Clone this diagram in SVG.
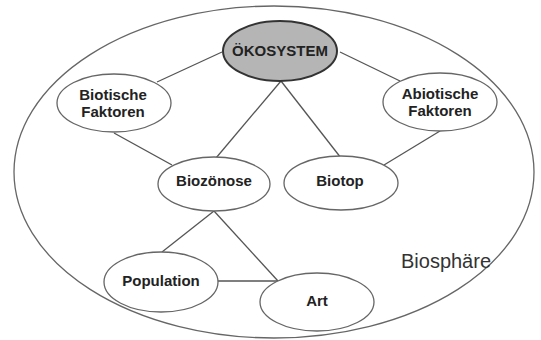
<svg xmlns="http://www.w3.org/2000/svg" width="541" height="340" viewBox="0 0 541 340">
<style>
.n{fill:#fff;stroke:#666;stroke-width:1.3}
.t{font-family:"Liberation Sans",Arial,sans-serif;font-weight:bold;font-size:15px;fill:#222;text-anchor:middle}
.c line{stroke:#555;stroke-width:1.3}
</style>
<rect width="541" height="340" fill="#fff"/>
<g id="biosphaere">
<ellipse cx="274" cy="172" rx="260" ry="166" fill="none" stroke="#666" stroke-width="1.3"/>
<text x="446" y="268" font-family="Liberation Sans,Arial,sans-serif" font-size="20" fill="#333" text-anchor="middle">Biosphäre</text>
</g>
<g class="c" id="connectors">
<line x1="222" y1="52" x2="157" y2="82"/>
<line x1="340" y1="52" x2="400" y2="81"/>
<line x1="281" y1="81" x2="216" y2="158"/>
<line x1="281" y1="81" x2="341" y2="158"/>
<line x1="114" y1="133" x2="172" y2="165"/>
<line x1="440" y1="131" x2="384" y2="165"/>
<line x1="214" y1="211" x2="162" y2="252"/>
<line x1="214" y1="211" x2="278" y2="281"/>
<line x1="218" y1="281" x2="278" y2="281"/>
</g>
<g id="oekosystem">
<ellipse cx="280" cy="51" rx="57" ry="30" fill="#b5b5b5" stroke="#333" stroke-width="2"/>
<text class="t" x="280" y="56">ÖKOSYSTEM</text>
</g>
<g id="biotische">
<ellipse class="n" cx="114" cy="103" rx="57" ry="29"/>
<text class="t" x="113" y="100">Biotische</text>
<text class="t" x="113" y="117">Faktoren</text>
</g>
<g id="abiotische">
<ellipse class="n" cx="440" cy="102" rx="57" ry="29"/>
<text class="t" x="440" y="99">Abiotische</text>
<text class="t" x="440" y="116">Faktoren</text>
</g>
<g id="biozoenose">
<ellipse class="n" cx="214" cy="184" rx="56" ry="27"/>
<text class="t" x="214" y="186">Biozönose</text>
</g>
<g id="biotop">
<ellipse class="n" cx="341" cy="183" rx="57" ry="27"/>
<text class="t" x="340" y="186">Biotop</text>
</g>
<g id="population">
<ellipse class="n" cx="161" cy="282" rx="57" ry="30"/>
<text class="t" x="161" y="286">Population</text>
</g>
<g id="art">
<ellipse class="n" cx="317" cy="302" rx="57" ry="29"/>
<text class="t" x="317" y="306">Art</text>
</g>
</svg>
